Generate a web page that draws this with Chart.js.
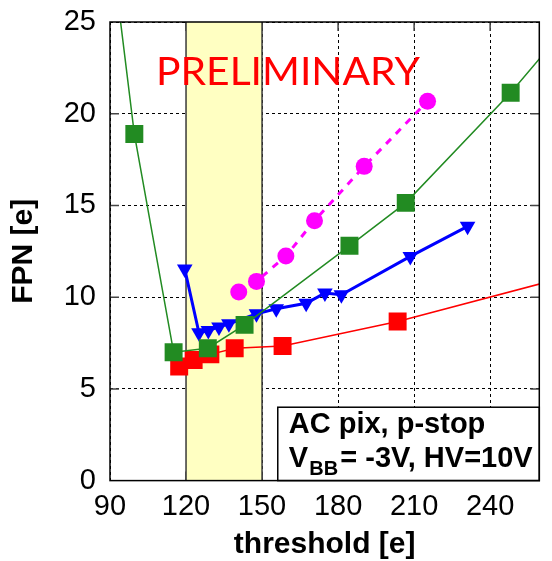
<!DOCTYPE html>
<html lang="en">
<head>
  <meta charset="UTF-8" />
  <title>FPN vs threshold</title>
  <script src="https://cdn.jsdelivr.net/npm/chart.js"></script>
  <style>
    * { margin: 0; padding: 0; box-sizing: border-box; }
    body { background: #fff; }
    .wrap { width: 552px; height: 561px; position: relative; }
  </style>
</head>
<body>
<div class="wrap"><canvas id="fpnChart"></canvas></div>

<script>
  // values (threshold [e], FPN [e])
  const greenX = [90, 99.6, 115.1, 128.6, 143.1, 184.5, 206.7, 248.1, 290];
  const greenY = [29.7, 18.9, 7.0, 7.22, 8.49, 12.8, 15.14, 21.14, 28.0];
  const redX = [117.3, 123.0, 129.6, 139.2, 158.1, 203.5, 300];
  const redY = [6.22, 6.58, 6.88, 7.21, 7.34, 8.67, 12.2];
  const blueX = [119.5, 125.1, 128.8, 133.0, 136.9, 147.8, 155.6, 167.4, 174.8, 181.3, 208.5, 231.1];
  const blueY = [11.53, 8.06, 8.18, 8.38, 8.55, 9.09, 9.37, 9.67, 10.22, 10.13, 12.22, 13.86];
  const pinkX = [140.8, 147.8, 159.4, 170.7, 190.3, 215.3];
  const pinkY = [10.28, 10.86, 12.24, 14.17, 17.13, 20.68];

  const bandRange = [120, 150];
  const boxCorner = [156.2, 4.0];
  const xTickVals = [120, 150, 180, 210, 240];
  const yTickVals = [5, 10, 15, 20];

  const FONT = "'Liberation Sans', Arial, Helvetica, sans-serif";
  Chart.defaults.font.family = FONT;
  Chart.defaults.color = '#000';

  const pts = (xs, ys) => xs.map((v, i) => ({ x: v, y: ys[i] }));

  const decorPlugin = {
    id: 'decor',
    beforeDatasetsDraw(chart) {
      const { ctx, chartArea: a, scales: { x, y } } = chart;
      ctx.save();
      // inward tick marks
      ctx.strokeStyle = '#444';
      ctx.lineWidth = 1.5;
      ctx.beginPath();
      yTickVals.forEach(v => {
        const py = y.getPixelForValue(v);
        ctx.moveTo(a.left, py); ctx.lineTo(a.left + 9, py);
        ctx.moveTo(a.right, py); ctx.lineTo(a.right - 9, py);
      });
      xTickVals.forEach(v => {
        const px = x.getPixelForValue(v);
        ctx.moveTo(px, a.bottom); ctx.lineTo(px, a.bottom - 9);
        ctx.moveTo(px, a.top); ctx.lineTo(px, a.top + 9);
      });
      ctx.stroke();

      // yellow band
      const bx1 = x.getPixelForValue(bandRange[0]), bx2 = x.getPixelForValue(bandRange[1]);
      ctx.fillStyle = '#ffffc2';
      ctx.fillRect(bx1, a.top, bx2 - bx1, a.bottom - a.top);
      ctx.strokeStyle = '#3a3a3a';
      ctx.beginPath();
      ctx.moveTo(bx1, a.top); ctx.lineTo(bx1, a.bottom);
      ctx.moveTo(bx2, a.top); ctx.lineTo(bx2, a.bottom);
      ctx.stroke();

      // label box
      const lx = x.getPixelForValue(boxCorner[0]), ly = y.getPixelForValue(boxCorner[1]);
      ctx.fillStyle = '#fff';
      ctx.fillRect(lx, ly, a.right - lx, a.bottom - ly);
      ctx.strokeStyle = '#000';
      ctx.strokeRect(lx, ly, a.right - lx, a.bottom - ly);
      ctx.fillStyle = '#000';
      ctx.textAlign = 'left';
      ctx.textBaseline = 'alphabetic';
      ctx.font = 'bold 29px ' + FONT;
      ctx.fillText('AC pix, p-stop', lx + 11, ly + 26);
      ctx.fillText('V', lx + 11, ly + 59.4);
      ctx.fillText('= -3V, HV=10V', lx + 62.5, ly + 59.4);
      ctx.font = 'bold 20px ' + FONT;
      ctx.fillText('BB', lx + 31.6, ly + 67.7);
      ctx.restore();
    },
    afterDatasetsDraw(chart) {
      const { ctx, chartArea: a } = chart;
      ctx.save();
      ctx.strokeStyle = '#000';
      ctx.lineWidth = 1.5;
      ctx.strokeRect(a.left, a.top, a.right - a.left, a.bottom - a.top);

      // PRELIMINARY stamp
      ctx.font = '39.5px Lato, ' + FONT;
      ctx.fillStyle = '#ff0000';
      ctx.textBaseline = 'alphabetic';
      const w = ctx.measureText('PRELIMINARY').width;
      ctx.translate(156, 85);
      ctx.scale(264 / w, 1);
      ctx.fillText('PRELIMINARY', 0, 0);
      ctx.restore();
    }
  };

  new Chart(document.getElementById('fpnChart'), {
    type: 'line',
    data: {
      datasets: [
        { data: pts(greenX, greenY), borderColor: '#228b22', backgroundColor: '#228b22', borderWidth: 1.5,
          pointStyle: 'rect', pointRadius: 12.7, pointBorderWidth: 0 },
        { data: pts(redX, redY), borderColor: '#ff0000', backgroundColor: '#ff0000', borderWidth: 1.5,
          pointStyle: 'rect', pointRadius: 12.7, pointBorderWidth: 0 },
        { data: pts(blueX, blueY), borderColor: '#0000ff', backgroundColor: '#0000ff', borderWidth: 3,
          pointStyle: 'triangle', pointRotation: 180, pointRadius: 9, pointBorderWidth: 0 },
        { data: pts(pinkX, pinkY), borderColor: '#ff00ff', backgroundColor: '#ff00ff', borderWidth: 3,
          borderDash: [7, 7], pointStyle: 'circle', pointRadius: 8.5, pointBorderWidth: 0 }
      ]
    },
    options: {
      responsive: true,
      maintainAspectRatio: false,
      animation: false,
      events: [],
      layout: { padding: { top: 22, right: 0.5, left: 0, bottom: 0 } },
      plugins: { legend: { display: false }, tooltip: { enabled: false } },
      scales: {
        x: {
          type: 'linear', min: 90, max: 259.4,
          afterFit: s => { s.height = 80.4; s.paddingLeft = 0; s.paddingRight = 0; },
          ticks: { stepSize: 30, includeBounds: false, padding: 9, color: '#000', font: { size: 29 }, maxRotation: 0, autoSkip: false },
          grid: { color: '#000', lineWidth: 1, drawTicks: false },
          border: { display: false, dash: [3, 3] },
          title: { display: true, text: 'threshold [e]', color: '#000',
                   font: { size: 30, weight: 'bold', lineHeight: 1 }, padding: { top: 0, bottom: 1.5 } }
        },
        y: {
          min: 0, max: 25,
          afterFit: s => { s.width = 110; s.paddingTop = 0; s.paddingBottom = 0; },
          ticks: { stepSize: 5, padding: 14, color: '#000', font: { size: 29 } },
          grid: { color: '#000', lineWidth: 1, drawTicks: false },
          border: { display: false, dash: [3, 3] },
          title: { display: true, text: 'FPN [e]', color: '#000',
                   font: { size: 30, weight: 'bold', lineHeight: 1 }, padding: { top: 9, bottom: 0 } }
        }
      }
    },
    plugins: [decorPlugin]
  });
</script>
</body>
</html>
